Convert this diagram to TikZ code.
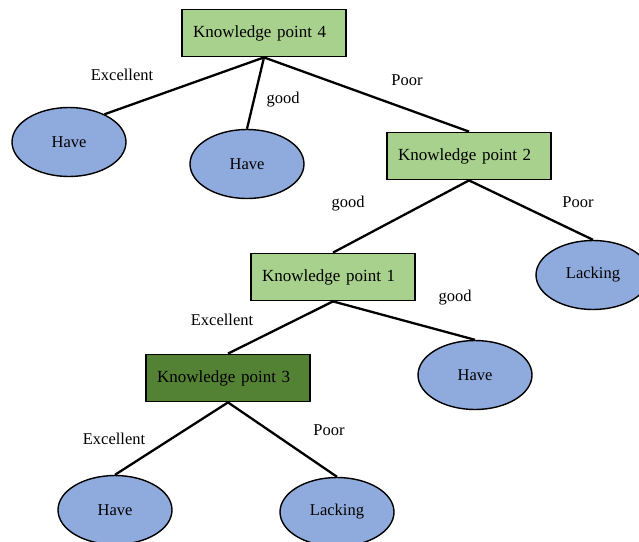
\documentclass[tikz,border=0pt]{standalone}
\usepackage{fontspec}
\setmainfont{Liberation Serif}
\usetikzlibrary{shapes.geometric}
\definecolor{kplight}{HTML}{A9D18E}
\definecolor{kpdark}{HTML}{548235}
\definecolor{leafblue}{HTML}{8FAADC}

\begin{document}
\begin{tikzpicture}[x=1pt, y=-1pt,
                    kpbox/.style={draw=black, line width=1.8pt, fill=kplight, minimum height=47pt,
                    text width=142pt, inner xsep=11pt, align=left, font=\fontsize{17}{20}\selectfont},
                    leaf/.style={ellipse, draw=black, line width=1.4pt, fill=leafblue, inner sep=0pt,
                    minimum width=114pt, minimum height=69pt, font=\fontsize{16.5}{20}\selectfont},
                    branch/.style={line width=2.3pt},
                    lbl/.style={inner sep=0pt, font=\fontsize{16.5}{20}\selectfont}]
                    \clip (0,0) rectangle (639,541);

                    % Knowledge point boxes
                    \node[kpbox] (kpfour) at (264,33) {Knowledge point 4};
                    \node[kpbox] (kptwo) at (469,156) {Knowledge point 2};
                    \node[kpbox] (kpone) at (333,277) {Knowledge point 1};
                    \node[kpbox, fill=kpdark] (kpthree) at (228,378) {Knowledge point 3};

                    % Leaves
                    \node[leaf] (haveA) at (69,142) {Have};
                    \node[leaf] (haveB) at (247,164) {Have};
                    \node[leaf] (lackA) at (593,275) {Lacking};
                    \node[leaf] (haveC) at (475,375) {Have};
                    \node[leaf] (haveD) at (115,510) {Have};
                    \node[leaf] (lackB) at (337,512) {Lacking};

                    % Branches of point 4
                    \draw[branch] (kpfour.south) -- (haveA.38);
                    \draw[branch] (kpfour.south) -- (haveB.north);
                    \draw[branch] (kpfour.south) -- (kptwo.north);

                    % Branches of point 2
                    \draw[branch] (kptwo.south) -- (kpone.north);
                    \draw[branch] (kptwo.south) -- (lackA.north);

                    % Branches of point 1
                    \draw[branch] (kpone.south) -- (kpthree.north);
                    \draw[branch] (kpone.south) -- (haveC.north);

                    % Branches of point 3
                    \draw[branch] (kpthree.south) -- (haveD.north);
                    \draw[branch] (kpthree.south) -- (lackB.north);

                    % Branch labels
                    \node[lbl] (lexcA) at (122,75) {Excellent};
                    \node[lbl] (lgoodA) at (283,100) {good};
                    \node[lbl] (lpoorA) at (407,80) {Poor};
                    \node[lbl] (lgoodB) at (348,204) {good};
                    \node[lbl] (lpoorB) at (578,202) {Poor};
                    \node[lbl] (lgoodC) at (455,298) {good};
                    \node[lbl] (lexcB) at (222,320) {Excellent};
                    \node[lbl] (lexcC) at (114,439) {Excellent};
                    \node[lbl] (lpoorC) at (329,430) {Poor};
                \end{tikzpicture}
\end{document}
